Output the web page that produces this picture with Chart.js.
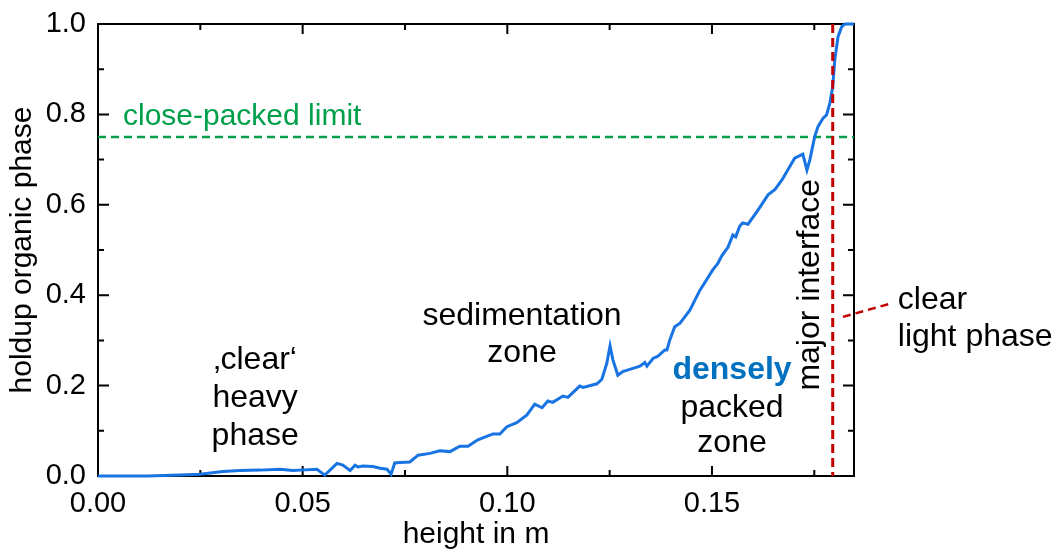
<!DOCTYPE html>
<html>
<head>
<meta charset="utf-8">
<script src="https://cdn.jsdelivr.net/npm/chart.js@4/dist/chart.umd.min.js"></script>
<style>
  html, body { margin: 0; padding: 0; background: #fff; }
  #wrap { width: 1063px; height: 554px; position: relative; }
</style>
</head>
<body>
<div id="wrap"><canvas id="c" width="1063" height="554"></canvas></div>
<script>
// ---- data ----
const heightM = [
  0.0000, 0.0071, 0.0120, 0.0200, 0.0249, 0.0305, 0.0347, 0.0396, 0.0445, 0.0476,
  0.0493, 0.0535, 0.0554, 0.0584, 0.0598, 0.0616, 0.0628, 0.0635, 0.0647, 0.0672,
  0.0689, 0.0706, 0.0716, 0.0725, 0.0738, 0.0762, 0.0782, 0.0811, 0.0835, 0.0860,
  0.0884, 0.0904, 0.0928, 0.0965, 0.0982, 0.0999, 0.1023, 0.1048, 0.1067, 0.1085,
  0.1099, 0.1111, 0.1136, 0.1148, 0.1177, 0.1185, 0.1219, 0.1231, 0.1243, 0.1251,
  0.1258, 0.1270, 0.1282, 0.1307, 0.1324, 0.1336, 0.1341, 0.1356, 0.1368, 0.1385,
  0.1390, 0.1397, 0.1409, 0.1422, 0.1446, 0.1470, 0.1502, 0.1514, 0.1524, 0.1539,
  0.1551, 0.1558, 0.1568, 0.1575, 0.1588, 0.1610, 0.1637, 0.1654, 0.1671, 0.1702,
  0.1722, 0.1732, 0.1739, 0.1751, 0.1759, 0.1771, 0.1780, 0.1788, 0.1795, 0.1800,
  0.1808, 0.1817, 0.1825, 0.1847
];
const holdup = [
  0.000, 0.000, 0.000, 0.002, 0.004, 0.010, 0.012, 0.013, 0.015, 0.012,
  0.013, 0.015, 0.002, 0.028, 0.024, 0.012, 0.024, 0.020, 0.022, 0.021,
  0.017, 0.015, 0.004, 0.029, 0.030, 0.031, 0.046, 0.050, 0.056, 0.054,
  0.066, 0.066, 0.080, 0.093, 0.093, 0.109, 0.118, 0.135, 0.159, 0.151,
  0.166, 0.163, 0.177, 0.174, 0.199, 0.196, 0.204, 0.214, 0.249, 0.288,
  0.257, 0.223, 0.231, 0.238, 0.243, 0.251, 0.243, 0.260, 0.265, 0.279,
  0.279, 0.301, 0.330, 0.338, 0.367, 0.410, 0.456, 0.470, 0.487, 0.506,
  0.533, 0.529, 0.553, 0.560, 0.557, 0.585, 0.622, 0.634, 0.655, 0.703,
  0.712, 0.677, 0.699, 0.751, 0.773, 0.791, 0.799, 0.825, 0.861, 0.920,
  0.972, 0.994, 1.000, 1.000
];
const xMajorTicks = [0, 0.05, 0.10, 0.15];
const xMinorTicks = [0.025, 0.075, 0.125, 0.175];
const yMajorTicks = [0, 0.2, 0.4, 0.6, 0.8, 1.0];
const yMinorTicks = [0.1, 0.3, 0.5, 0.7, 0.9];
const closePackedLimit = 0.75;
const majorInterface = 0.1795;
const xMax = 0.1847;

// ---- annotation placement (data coordinates) ----
const FONT = "'Liberation Sans', Arial, sans-serif";
const notes = [
  { lines: ['close-packed limit'], x: 0.0061, y: 0.7765, align: 'left', base: 'alphabetic', color: '#00a04b', size: 30 },
  { lines: ['\u201Aclear\u2018', 'heavy', 'phase'], x: 0.0384, y: 0.257, dy: 0.084, align: 'center', color: '#000', size: 32 },
  { lines: ['sedimentation', 'zone'], x: 0.1036, y: 0.354, dy: 0.082, align: 'center', color: '#000', size: 32 },
  { lines: ['densely'], x: 0.1549, y: 0.235, align: 'center', color: '#0070c0', size: 32, bold: true },
  { lines: ['packed', 'zone'], x: 0.1549, y: 0.150, dy: 0.077, align: 'center', color: '#000', size: 32 },
  { lines: ['clear', 'light phase'], x: 0.1954, y: 0.389, dy: 0.082, align: 'left', color: '#000', size: 32 },
];
const rotatedNote = { text: 'major interface', x: 0.1739, y: 0.423, size: 32 };
const leader = { x1: 0.1820, y1: 0.352, x2: 0.1942, y2: 0.383 };

const overlay = {
  id: 'overlay',
  beforeDatasetsDraw(chart) {
    const { ctx, chartArea: a, scales: { x, y } } = chart;
    ctx.save();
    ctx.strokeStyle = '#000';
    ctx.lineWidth = 2;
    ctx.setLineDash([]);
    ctx.strokeRect(a.left, a.top, a.right - a.left, a.bottom - a.top);
    const tick = (vals, len, horiz) => {
      for (const v of vals) {
        ctx.beginPath();
        if (horiz) {
          const px = x.getPixelForValue(v);
          ctx.moveTo(px, a.bottom); ctx.lineTo(px, a.bottom - len);
          ctx.moveTo(px, a.top); ctx.lineTo(px, a.top + len);
        } else {
          const py = y.getPixelForValue(v);
          ctx.moveTo(a.left, py); ctx.lineTo(a.left + len, py);
          ctx.moveTo(a.right, py); ctx.lineTo(a.right - len, py);
        }
        ctx.stroke();
      }
    };
    tick(xMajorTicks, 10, true);
    tick(xMinorTicks, 6, true);
    tick(yMajorTicks, 11, false);
    tick(yMinorTicks, 6, false);
    ctx.strokeStyle = '#00a04b';
    ctx.lineWidth = 2.5;
    ctx.setLineDash([8, 5]);
    const gy = y.getPixelForValue(closePackedLimit);
    ctx.beginPath(); ctx.moveTo(a.left, gy); ctx.lineTo(a.right, gy); ctx.stroke();
    ctx.restore();
  },
  afterDatasetsDraw(chart) {
    const { ctx, chartArea: a, scales: { x, y } } = chart;
    ctx.save();
    ctx.strokeStyle = '#c00000';
    ctx.lineWidth = 3;
    ctx.setLineDash([9, 5]);
    const rx = x.getPixelForValue(majorInterface);
    ctx.beginPath(); ctx.moveTo(rx, a.top); ctx.lineTo(rx, a.bottom); ctx.stroke();
    ctx.lineWidth = 2.5;
    ctx.setLineDash([8, 5]);
    ctx.beginPath();
    ctx.moveTo(x.getPixelForValue(leader.x1), y.getPixelForValue(leader.y1));
    ctx.lineTo(x.getPixelForValue(leader.x2), y.getPixelForValue(leader.y2));
    ctx.stroke();
    ctx.setLineDash([]);
    for (const n of notes) {
      ctx.font = (n.bold ? 'bold ' : '') + n.size + 'px ' + FONT;
      ctx.fillStyle = n.color;
      ctx.textAlign = n.align;
      ctx.textBaseline = n.base || 'middle';
      n.lines.forEach((t, i) => {
        ctx.fillText(t, x.getPixelForValue(n.x), y.getPixelForValue(n.y - i * (n.dy || 0)));
      });
    }
    ctx.save();
    ctx.translate(x.getPixelForValue(rotatedNote.x), y.getPixelForValue(rotatedNote.y));
    ctx.rotate(-Math.PI / 2);
    ctx.font = rotatedNote.size + 'px ' + FONT;
    ctx.fillStyle = '#000';
    ctx.textAlign = 'center';
    ctx.textBaseline = 'middle';
    ctx.fillText(rotatedNote.text, 0, 0);
    ctx.restore();
    ctx.restore();
  }
};

new Chart(document.getElementById('c'), {
  type: 'line',
  data: {
    datasets: [{
      data: heightM.map((h, i) => ({ x: h, y: holdup[i] })),
      borderColor: '#1873e3',
      borderWidth: 3,
      pointRadius: 0,
      tension: 0,
      fill: false,
      clip: 4
    }]
  },
  options: {
    responsive: false,
    animation: false,
    devicePixelRatio: 1,
    layout: { padding: { left: 0, top: 24, right: 209, bottom: 0 } },
    plugins: { legend: { display: false }, tooltip: { enabled: false } },
    scales: {
      x: {
        type: 'linear', min: 0, max: xMax,
        grid: { display: false }, border: { display: false },
        afterFit(s) { s.height = 78; },
        afterBuildTicks(s) { s.ticks = xMajorTicks.map(v => ({ value: v })); },
        ticks: {
          color: '#000', padding: 3,
          font: { family: FONT, size: 29 },
          callback: v => v.toFixed(2)
        },
        title: {
          display: true, text: 'height in m', color: '#000',
          font: { family: FONT, size: 30, lineHeight: 1.1 },
          padding: { top: 0, bottom: 3 }
        }
      },
      y: {
        type: 'linear', min: 0, max: 1,
        grid: { display: false }, border: { display: false },
        afterFit(s) { s.width = 98; },
        afterBuildTicks(s) { s.ticks = yMajorTicks.map(v => ({ value: v })); },
        ticks: {
          color: '#000', padding: 4,
          font: { family: FONT, size: 29 },
          callback: v => v.toFixed(1)
        },
        title: {
          display: true, text: 'holdup organic phase', color: '#000',
          font: { family: FONT, size: 30, lineHeight: 1.1 },
          padding: { top: 6, bottom: 0 }
        }
      }
    }
  },
  plugins: [overlay]
});
</script>
</body>
</html>
